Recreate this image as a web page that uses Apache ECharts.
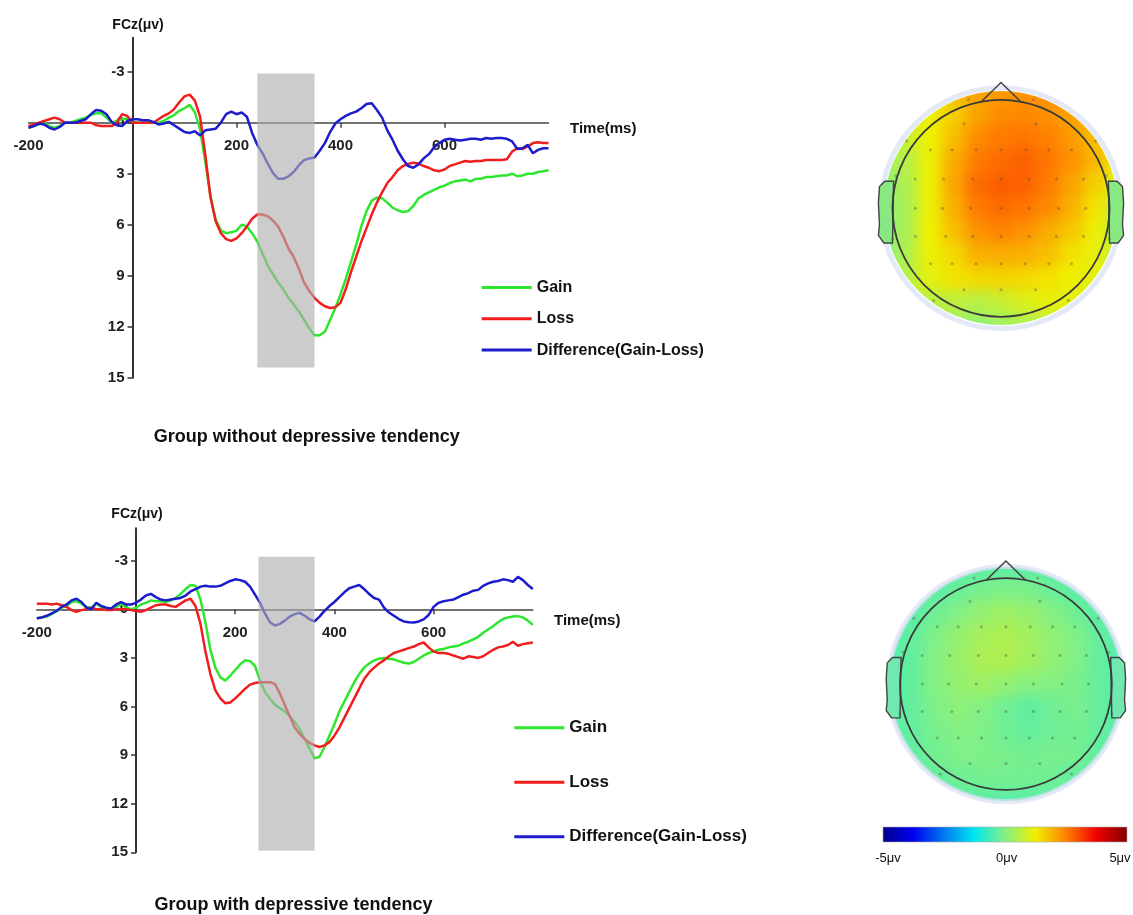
<!DOCTYPE html>
<html>
<head>
<meta charset="utf-8">
<script src="https://cdn.jsdelivr.net/npm/echarts@6.0.0/dist/echarts.min.js"></script>
<style>
  html, body { margin: 0; padding: 0; background: #fff; }
  #wrap { position: relative; width: 1133px; height: 915px; overflow: hidden; }
  .topo { position: absolute; width: 260px; height: 260px; filter: blur(7px); clip-path: circle(117px at 130px 130px); }
  #topoTop { left: 871px; top: 78px; }
  #topoBottom { left: 876px; top: 554px; }
  #main { position: absolute; left: 0; top: 0; width: 1133px; height: 915px; }
</style>
</head>
<body>
<div id="wrap">
  <div id="topoTop" class="topo"></div>
  <div id="topoBottom" class="topo"></div>
  <div id="main"></div>
</div>
<script>
// sample times (ms)
const times = [-200,-190,-180,-170,-160,-150,-140,-130,-120,-110,
  -100,-90,-80,-70,-60,-50,-40,-30,-20,-10,
  0,10,20,30,40,50,60,70,80,90,
  100,110,120,130,140,150,160,170,180,190,
  200,210,220,230,240,250,260,270,280,290,
  300,310,320,330,340,350,360,370,380,390,
  400,410,420,430,440,450,460,470,480,490,
  500,510,520,530,540,550,560,570,580,590,
  600,610,620,630,640,650,660,670,680,690,
  700,710,720,730,740,750,760,770,780,790,
  800];

// Group without depressive tendency (FCz, µV)
const topGain = [0.3,0.2,0.1,0.0,0.2,0.3,0.2,0.0,0.0,-0.1,
  -0.2,-0.3,-0.45,-0.55,-0.55,-0.3,0.0,-0.1,-0.2,-0.25,
  -0.05,0.0,0.0,-0.05,0.0,0.0,-0.1,-0.3,-0.45,-0.7,
  -0.85,-1.05,-0.6,0.4,2.3,4.3,5.7,6.35,6.5,6.45,
  6.35,6.0,6.1,6.5,7.0,7.7,8.4,8.9,9.4,9.8,
  10.3,10.7,11.1,11.6,12.1,12.5,12.5,12.3,11.6,10.9,
  10.1,9.2,8.2,7.2,6.1,5.2,4.6,4.4,4.45,4.7,
  5.0,5.15,5.25,5.2,4.9,4.45,4.25,4.1,3.95,3.8,
  3.7,3.55,3.45,3.4,3.35,3.45,3.3,3.3,3.2,3.2,
  3.15,3.1,3.1,3.0,3.15,3.1,3.0,3.0,2.9,2.85,
  2.8];
const topLoss = [0.2,0.1,0.0,-0.1,-0.2,-0.3,-0.2,0.0,0.0,0.0,
  0.0,0.0,0.0,0.15,0.2,0.2,0.2,0.0,-0.5,-0.4,
  0.0,0.0,0.0,0.0,0.0,-0.2,-0.4,-0.55,-0.8,-1.2,
  -1.55,-1.65,-1.3,-0.35,1.9,4.4,5.8,6.5,6.85,6.95,
  6.8,6.5,6.1,5.65,5.4,5.4,5.5,5.75,6.1,6.7,
  7.4,7.9,8.6,9.4,9.9,10.3,10.6,10.8,10.9,10.85,
  10.6,9.8,8.8,7.9,7.0,6.2,5.4,4.7,4.1,3.55,
  3.2,2.8,2.55,2.43,2.35,2.4,2.55,2.65,2.8,2.85,
  2.75,2.55,2.45,2.35,2.25,2.3,2.25,2.25,2.2,2.2,
  2.2,2.2,2.15,1.7,1.5,1.55,1.4,1.2,1.15,1.2,
  1.2];
const topDiff = [0.3,0.2,0.05,0.1,0.3,0.4,0.25,0.0,0.0,0.0,
  -0.1,-0.2,-0.5,-0.75,-0.7,-0.5,-0.05,0.15,0.2,-0.1,
  -0.2,-0.2,-0.15,-0.15,-0.05,0.1,0.05,-0.05,0.15,0.35,
  0.55,0.6,0.5,0.75,0.45,0.4,0.35,0.0,-0.5,-0.65,
  -0.5,-0.6,-0.35,0.6,1.3,1.8,2.4,2.95,3.3,3.3,
  3.15,2.9,2.5,2.2,2.1,2.05,1.65,1.2,0.55,0.05,
  -0.2,-0.4,-0.55,-0.65,-0.85,-1.1,-1.15,-0.75,-0.3,0.45,
  1.0,1.65,2.15,2.55,2.65,2.45,2.1,1.85,1.45,1.2,
  1.0,0.95,1.0,1.05,1.0,0.95,0.95,1.0,0.9,0.95,
  0.9,0.9,0.95,1.1,1.55,1.5,1.3,1.8,1.6,1.5,
  1.5];

// Group with depressive tendency (FCz, µV)
const botGain = [0.55,0.5,0.45,0.3,0.1,-0.1,-0.2,-0.45,-0.5,-0.35,
  -0.15,-0.1,-0.35,-0.15,0.0,-0.05,-0.15,-0.35,-0.1,0.0,
  -0.1,-0.3,-0.4,-0.55,-0.5,-0.5,-0.45,-0.55,-0.7,-0.95,
  -1.25,-1.5,-1.45,-0.6,0.8,2.5,3.6,4.2,4.4,4.1,
  3.75,3.4,3.15,3.2,3.5,4.4,5.1,5.5,5.9,6.1,
  6.3,6.6,6.95,7.4,8.0,8.6,9.2,9.1,8.5,7.8,
  7.1,6.3,5.7,5.1,4.5,4.0,3.6,3.35,3.15,3.05,
  3.0,3.05,3.1,3.2,3.3,3.35,3.25,3.05,2.85,2.7,
  2.6,2.5,2.45,2.35,2.3,2.25,2.1,2.0,1.85,1.7,
  1.45,1.25,1.05,0.8,0.6,0.5,0.45,0.42,0.5,0.7,
  0.95];
const botLoss = [-0.35,-0.35,-0.35,-0.3,-0.35,-0.25,-0.15,0.05,0.15,0.05,
  0.0,-0.1,0.0,0.0,0.05,0.05,0.0,0.0,0.0,0.05,
  0.1,0.15,0.05,-0.1,-0.25,-0.3,-0.3,-0.2,-0.15,-0.35,
  -0.55,-0.65,-0.2,0.9,2.6,4.0,5.0,5.5,5.8,5.75,
  5.5,5.2,4.9,4.65,4.55,4.5,4.5,4.5,4.6,5.2,
  5.9,6.6,7.3,7.7,8.0,8.25,8.4,8.5,8.4,8.2,
  7.8,7.3,6.7,6.1,5.5,4.9,4.3,3.9,3.6,3.35,
  3.15,2.9,2.7,2.6,2.5,2.4,2.3,2.15,2.05,2.35,
  2.6,2.7,2.7,2.75,2.85,2.95,3.05,2.9,2.95,3.0,
  2.9,2.7,2.5,2.35,2.3,2.2,2.0,2.25,2.15,2.1,
  2.05];
const botDiff = [0.55,0.5,0.4,0.25,0.1,-0.15,-0.3,-0.55,-0.65,-0.45,
  -0.1,0.0,-0.4,-0.2,-0.1,-0.05,-0.3,-0.45,-0.3,-0.3,
  -0.4,-0.6,-0.85,-0.95,-0.75,-0.6,-0.55,-0.6,-0.65,-0.7,
  -0.85,-1.1,-1.25,-1.4,-1.45,-1.4,-1.4,-1.45,-1.6,-1.75,
  -1.85,-1.8,-1.7,-1.4,-0.9,-0.4,0.25,0.8,1.0,0.9,
  0.7,0.45,0.3,0.22,0.4,0.62,0.75,0.45,0.1,-0.2,
  -0.45,-0.75,-1.05,-1.3,-1.4,-1.5,-1.25,-0.95,-0.7,-0.6,
  -0.1,0.2,0.4,0.6,0.75,0.8,0.82,0.75,0.62,0.35,
  -0.15,-0.4,-0.5,-0.55,-0.6,-0.75,-0.9,-1.0,-1.15,-1.2,
  -1.45,-1.6,-1.7,-1.75,-1.85,-1.8,-1.7,-2.0,-1.8,-1.5,
  -1.25];

// analysis window (ms, µV extent of the grey band)
const topWindow = [240, 350, -2.9, 14.4];
const botWindow = [247, 360, -3.25, 14.9];

const seriesNames = ['Gain', 'Loss', 'Difference(Gain-Loss)'];
const lineColors = ['#2ee62e', '#f01e1e', '#1c1ccc'];
const xLabelValues = [-200, 200, 400, 600];
const xTickValues = [200, 400, 600];
const yLabelValues = [-3, 0, 3, 6, 9, 12, 15];

// topographic maps, 11 x 11 cells (front row first), µV
const cellIndex = ['0','1','2','3','4','5','6','7','8','9','10'];
const topMap = [
  [0.5, 0.7, 1.0, 1.9, 2.1, 2.2, 2.3, 2.3, 2.0, 1.6, 1.2],
  [0.5, 1.0, 1.2, 1.6, 2.1, 2.35, 2.4, 2.3, 2.1, 1.8, 1.3],
  [0.6, 0.8, 1.25, 1.8, 2.35, 2.55, 2.6, 2.5, 2.2, 1.8, 1.4],
  [0.3, 0.6, 1.2, 2.0, 2.55, 2.7, 2.8, 2.6, 2.3, 1.9, 1.2],
  [0.1, 0.5, 1.25, 2.1, 2.7, 2.85, 2.8, 2.55, 2.1, 1.6, 1.0],
  [0.0, 0.45, 1.2, 1.95, 2.55, 2.7, 2.6, 2.4, 1.95, 1.4, 0.7],
  [0.0, 0.45, 1.25, 1.8, 2.3, 2.45, 2.3, 2.0, 1.7, 1.2, 0.6],
  [0.0, 0.5, 1.2, 1.5, 1.95, 2.0, 1.95, 1.8, 1.4, 1.15, 0.6],
  [0.0, 0.6, 1.1, 1.4, 1.5, 1.55, 1.5, 1.4, 1.25, 1.1, 0.6],
  [0.2, 0.45, 0.6, 0.65, 0.6, 0.75, 1.0, 1.15, 1.1, 0.8, 0.5],
  [0.2, 0.3, 0.3, 0.3, 0.15, 0.3, 0.45, 0.6, 0.6, 0.5, 0.4]
];
const botMap = [
  [-0.5,-0.5,-0.5,-0.45,-0.4,-0.4,-0.4,-0.45,-0.5,-0.5,-0.5],
  [-0.5,-0.5,-0.4,-0.25,-0.1,-0.05,-0.1,-0.25,-0.4,-0.5,-0.5],
  [-0.5,-0.4,-0.2,0.0,0.2,0.3,0.2,0.0,-0.2,-0.4,-0.5],
  [-0.5,-0.3,-0.05,0.2,0.4,0.5,0.35,0.15,-0.05,-0.3,-0.5],
  [-0.5,-0.3,0.0,0.25,0.45,0.5,0.35,0.15,-0.05,-0.3,-0.5],
  [-0.5,-0.3,0.0,0.2,0.3,0.15,0.05,0.0,-0.1,-0.3,-0.5],
  [-0.5,-0.3,-0.05,0.1,0.0,-0.2,-0.35,-0.2,-0.1,-0.3,-0.5],
  [-0.5,-0.3,-0.1,0.0,-0.05,-0.2,-0.3,-0.2,-0.15,-0.3,-0.5],
  [-0.5,-0.35,-0.15,-0.05,-0.05,-0.1,-0.15,-0.1,-0.15,-0.35,-0.5],
  [-0.5,-0.45,-0.3,-0.2,-0.15,-0.15,-0.15,-0.2,-0.3,-0.45,-0.5],
  [-0.5,-0.5,-0.5,-0.45,-0.4,-0.4,-0.4,-0.45,-0.5,-0.5,-0.5]
];
const jetColors = ['#00008b','#0000f0','#0078f0','#00e8f0','#84f084','#f0f000','#ff8000','#f00000','#800000'];
const colorbarLabels = ['-5μv', '0μv', '5μv'];

// electrode positions in head radii (x right, y front)
const electrodes = [
  [-0.34,0.78],[0.32,0.78],
  [-0.65,0.54],[-0.45,0.54],[-0.23,0.54],[0,0.54],[0.23,0.54],[0.44,0.54],[0.65,0.54],
  [-0.79,0.27],[-0.53,0.27],[-0.26,0.27],[0,0.27],[0.26,0.27],[0.51,0.27],[0.76,0.27],
  [-0.79,0],[-0.54,0],[-0.28,0],[0,0],[0.26,0],[0.53,0],[0.78,0],
  [-0.79,-0.26],[-0.51,-0.26],[-0.26,-0.26],[0,-0.26],[0.26,-0.26],[0.51,-0.26],[0.76,-0.26],
  [-0.65,-0.51],[-0.45,-0.51],[-0.23,-0.51],[0,-0.51],[0.22,-0.51],[0.44,-0.51],[0.65,-0.51],
  [-0.34,-0.75],[0,-0.75],[0.32,-0.75],
  [-0.87,0.62],[0.87,0.62],[-0.97,0.3],[0.97,0.3],[-1.0,-0.28],[1.0,-0.28],
  [-0.62,-0.85],[0.62,-0.85],[-0.3,1.0],[0.3,1.0]
];
// head outline pieces in head radii
const noseShape = [[-0.19, 0.975], [0, 1.16], [0.19, 0.975]];
const leftEar = [[-0.99,0.25],[-1.07,0.25],[-1.12,0.2],[-1.13,0.05],[-1.12,-0.15],[-1.13,-0.25],[-1.08,-0.32],[-1.0,-0.32]];

const FONT = '"Liberation Sans", Arial, sans-serif';

function pairs(vals) {
  return times.map((t, i) => [t, vals[i]]);
}

function lineSeries(name, vals, idx, color) {
  return {
    name: name,
    type: 'line',
    xAxisIndex: idx,
    yAxisIndex: idx,
    data: pairs(vals),
    showSymbol: false,
    symbol: 'none',
    lineStyle: { color: color, width: 2.5 },
    itemStyle: { color: color },
    z: 2
  };
}

function windowSeries(win, idx) {
  return {
    type: 'custom',
    xAxisIndex: idx,
    yAxisIndex: idx,
    silent: true,
    z: 5,
    encode: { x: [0, 1], y: [2, 3] },
    data: [win],
    renderItem: function(params, api) {
      const p0 = api.coord([api.value(0), api.value(2)]);
      const p1 = api.coord([api.value(1), api.value(3)]);
      return {
        type: 'rect',
        shape: {
          x: p0[0], y: Math.min(p0[1], p1[1]),
          width: p1[0] - p0[0], height: Math.abs(p1[1] - p0[1])
        },
        style: { fill: 'rgba(175,175,175,0.64)' }
      };
    }
  };
}

function headSeries(idx, earFill) {
  return {
    type: 'custom',
    xAxisIndex: idx,
    yAxisIndex: idx,
    silent: true,
    z: 6,
    encode: { x: 0, y: 1 },
    data: [[0, 0]],
    renderItem: function(params, api) {
      const c = api.coord([0, 0]);
      const u = api.size([1, 1]);
      const pts = arr => arr.map(p => api.coord(p));
      const rightEar = leftEar.map(p => [-p[0], p[1]]);
      const earStyle = { fill: earFill, stroke: '#444', lineWidth: 1.4 };
      return {
        type: 'group',
        children: [
          { type: 'circle', shape: { cx: c[0], cy: c[1], r: u[0] * 1.11 },
            style: { fill: 'none', stroke: 'rgba(215,224,244,0.7)', lineWidth: 5 } },
          { type: 'polygon', shape: { points: pts(leftEar) }, style: earStyle },
          { type: 'polygon', shape: { points: pts(rightEar) }, style: earStyle },
          { type: 'circle', shape: { cx: c[0], cy: c[1], r: u[0] },
            style: { fill: 'none', stroke: '#3a3a3a', lineWidth: 1.8 } },
          { type: 'polyline', shape: { points: pts(noseShape) },
            style: { fill: 'none', stroke: '#444', lineWidth: 1.5 } }
        ]
      };
    }
  };
}

function electrodeSeries(idx) {
  return {
    type: 'scatter',
    xAxisIndex: idx,
    yAxisIndex: idx,
    silent: true,
    z: 7,
    symbolSize: 3,
    itemStyle: { color: 'rgba(80,80,80,0.5)' },
    data: electrodes
  };
}

// x axis drawn through µV = 0; shift = px distance from grid bottom to the zero line
function ercXAxis(idx, shift) {
  return {
    type: 'value', gridIndex: idx, min: -200, max: 800, position: 'bottom',
    offset: -shift,
    axisLine: { onZero: false, lineStyle: { color: '#444', width: 1.5 } },
    axisTick: { show: true, length: 5, customValues: xTickValues, lineStyle: { color: '#444', width: 1.5 } },
    axisLabel: { customValues: xLabelValues, margin: 16, color: '#222', fontSize: 15, fontWeight: 'bold', fontFamily: FONT },
    splitLine: { show: false }
  };
}

// y axis drawn through t = 0; shift = px distance from grid left to the zero line
function ercYAxis(idx, shift) {
  return {
    type: 'value', gridIndex: idx, min: -5, max: 15, inverse: true, position: 'left',
    offset: -shift,
    axisLine: { show: true, onZero: false, lineStyle: { color: '#333', width: 2 } },
    axisTick: { show: true, length: 5, customValues: yLabelValues, lineStyle: { color: '#333', width: 1.5 } },
    axisLabel: { customValues: yLabelValues, margin: 8, color: '#222', fontSize: 15, fontWeight: 'bold', fontFamily: FONT },
    splitLine: { show: false }
  };
}

function headAxis(idx) {
  return { type: 'value', gridIndex: idx, min: -1.2, max: 1.2, show: false };
}

function legendAt(left, top, gap, size) {
  return {
    orient: 'vertical', left: left, top: top,
    data: seriesNames, icon: 'rect', itemWidth: 50, itemHeight: 3,
    itemGap: gap, selectedMode: false,
    textStyle: { color: '#111', fontSize: size, fontWeight: 'bold', fontFamily: FONT, lineHeight: 18 }
  };
}

function text(x, y, str, size, align, weight) {
  return {
    type: 'text', x: x, y: y, silent: true, z: 10,
    style: { text: str, fill: '#111', font: (weight || 'bold') + ' ' + size + 'px ' + FONT,
             textAlign: align || 'center', textVerticalAlign: 'middle' }
  };
}

const barStops = jetColors.map((c, i) => ({ offset: i / (jetColors.length - 1), color: c }));

const option = {
  animation: false,
  grid: [
    { left: 28.5, top: 37.7, width: 520, height: 340 },
    { left: 36.8, top: 528.3, width: 496, height: 324 },
    { left: 870.8, top: 78.1, width: 260.4, height: 260.4 },
    { left: 878.8, top: 556.8, width: 254.4, height: 254.4 }
  ],
  xAxis: [ercXAxis(0, 255), ercXAxis(1, 243), headAxis(2), headAxis(3)],
  yAxis: [ercYAxis(0, 104), ercYAxis(1, 99.2), headAxis(2), headAxis(3)],
  legend: [legendAt(476.7, 273.5, 13.3, 16), legendAt(509.3, 713.7, 36.5, 17)],
  series: [
    lineSeries(seriesNames[0], topGain, 0, lineColors[0]),
    lineSeries(seriesNames[1], topLoss, 0, lineColors[1]),
    lineSeries(seriesNames[2], topDiff, 0, lineColors[2]),
    windowSeries(topWindow, 0),
    lineSeries(seriesNames[0], botGain, 1, lineColors[0]),
    lineSeries(seriesNames[1], botLoss, 1, lineColors[1]),
    lineSeries(seriesNames[2], botDiff, 1, lineColors[2]),
    windowSeries(botWindow, 1),
    headSeries(2, '#88e882'),
    electrodeSeries(2),
    headSeries(3, '#70e8b0'),
    electrodeSeries(3)
  ],
  graphic: [
    text(138, 25, 'FCz(μv)', 14),
    text(137, 514, 'FCz(μv)', 14),
    text(570, 129, 'Time(ms)', 15, 'left'),
    text(554, 621, 'Time(ms)', 15, 'left'),
    text(306.7, 436.7, 'Group without depressive tendency', 18),
    text(293.5, 905, 'Group with depressive tendency', 18),
    {
      type: 'rect', silent: true, z: 10,
      shape: { x: 883, y: 827, width: 244, height: 15 },
      style: {
        fill: { type: 'linear', x: 0, y: 0, x2: 1, y2: 0, colorStops: barStops },
        stroke: '#aaa', lineWidth: 0.6
      }
    },
    text(888, 858, colorbarLabels[0], 13, 'center', 'normal'),
    text(1006.7, 858, colorbarLabels[1], 13, 'center', 'normal'),
    text(1120, 858, colorbarLabels[2], 13, 'center', 'normal')
  ]
};

const chart = echarts.init(document.getElementById('main'));
chart.setOption(option);

function topoOption(matrix) {
  const data = [];
  matrix.forEach((row, r) => row.forEach((v, c) => data.push([c, r, v])));
  return {
    animation: false,
    grid: { left: 0, right: 0, top: 0, bottom: 0 },
    xAxis: { type: 'category', data: cellIndex, show: false },
    yAxis: { type: 'category', data: cellIndex, inverse: true, show: false },
    visualMap: { show: false, min: -5, max: 5, inRange: { color: jetColors } },
    series: [{ type: 'heatmap', data: data, itemStyle: { borderWidth: 0 } }]
  };
}

echarts.init(document.getElementById('topoTop')).setOption(topoOption(topMap));
echarts.init(document.getElementById('topoBottom')).setOption(topoOption(botMap));
</script>
</body>
</html>
